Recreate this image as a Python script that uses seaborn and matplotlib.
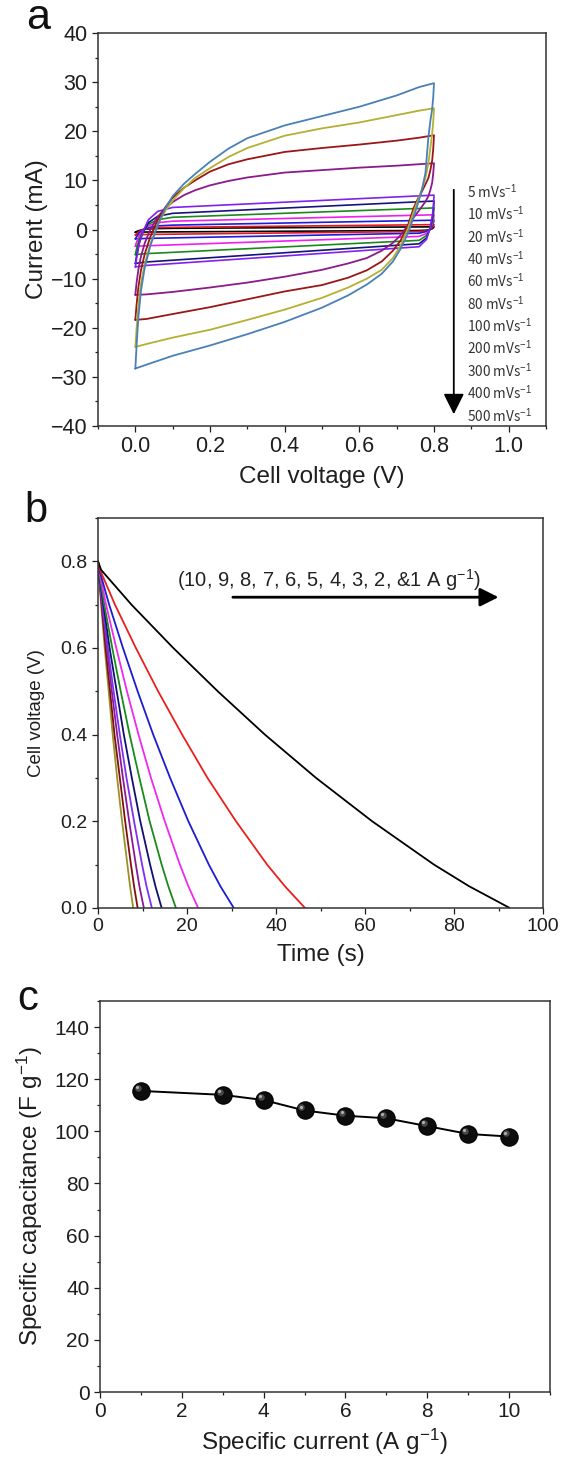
import matplotlib
matplotlib.use("Agg")
import matplotlib.pyplot as plt
from matplotlib.ticker import MultipleLocator, FormatStrFormatter
from matplotlib.transforms import ScaledTranslation
import seaborn as sns

# ---------------- panel a : cyclic voltammetry ----------------
SCAN_RATES = [5, 10, 20, 40, 60, 80, 100, 200, 300, 400, 500]
CV_COLORS = ["#000000", "#e8191c", "#1c1cdc", "#f01ef0", "#1a8a1a", "#14147a",
             "#7f22f0", "#8b1a8b", "#9b1616", "#b3b032", "#4a80b8"]

# fast scans (200-500 mV/s): read on a shared voltage grid
V_FWD = [0.0, 0.003, 0.008, 0.015, 0.025, 0.04, 0.06, 0.08, 0.1, 0.13, 0.16,
         0.2, 0.25, 0.3, 0.4, 0.5, 0.6, 0.7, 0.76, 0.8]
V_REV = [0.8, 0.798, 0.795, 0.79, 0.785, 0.777, 0.768, 0.757, 0.745, 0.73, 0.71,
         0.69, 0.66, 0.62, 0.57, 0.5, 0.4, 0.3, 0.2, 0.1, 0.03, 0.0]
cv200_fwd = [-13.3, -11.0, -8.2, -5.5, -2.8, 0.0, 2.6, 4.3, 5.6, 7.0, 8.0,
             9.0, 9.9, 10.6, 11.6, 12.1, 12.6, 13.0, 13.3, 13.5]
cv200_rev = [13.5, 11.5, 9.5, 8.0, 6.8, 5.7, 4.7, 3.6, 2.4, 0.8, -1.2,
             -2.7, -4.3, -5.8, -6.9, -8.2, -9.6, -10.8, -11.8, -12.7, -13.2, -13.3]
cv300_fwd = [-18.4, -15.5, -11.8, -8.3, -5.0, -1.5, 2.0, 4.5, 6.5, 8.5, 10.0,
             11.8, 13.3, 14.3, 15.8, 16.6, 17.3, 18.1, 18.7, 19.2]
cv300_rev = [19.2, 16.5, 14.0, 12.0, 10.5, 9.2, 7.8, 6.3, 4.3, 0.8, -2.3,
             -4.3, -6.5, -8.3, -9.8, -11.3, -12.6, -14.2, -15.8, -17.2, -18.2, -18.4]
cv400_fwd = [-23.9, -20.5, -15.5, -11.0, -7.0, -3.0, 1.0, 3.8, 5.9, 8.4, 10.5,
             12.5, 14.8, 16.6, 19.1, 20.6, 21.8, 23.3, 24.2, 24.7]
cv400_rev = [24.7, 22.0, 19.5, 16.5, 13.5, 10.5, 8.3, 6.0, 3.5, 0.2, -3.3,
             -5.8, -8.2, -10.0, -11.8, -13.9, -16.3, -18.4, -20.4, -22.0, -23.3, -23.9]
cv500_fwd = [-28.3, -24.0, -18.0, -12.5, -7.8, -3.3, 0.9, 4.3, 6.8, 9.3, 11.3,
             13.8, 16.5, 18.6, 21.2, 23.1, 25.0, 27.3, 29.0, 29.8]
cv500_rev = [29.8, 27.0, 24.5, 22.0, 18.8, 11.5, 8.2, 5.3, 2.4, -0.8, -4.0,
             -6.5, -9.0, -11.2, -13.4, -15.9, -18.8, -21.3, -23.6, -25.7, -27.5, -28.3]

# slow scans (5-100 mV/s): almost rectangular, fewer points
V_IN_FWD = [0.0, 0.003, 0.01, 0.02, 0.035, 0.06, 0.1, 0.8]
V_IN_REV = [0.8, 0.799, 0.796, 0.79, 0.78, 0.76, 0.03, 0.0]
cv5_fwd = [-0.55, -0.4, -0.2, 0.0, 0.12, 0.2, 0.25, 0.55]
cv5_rev = [0.55, 0.4, 0.2, 0.0, -0.12, -0.2, -0.5, -0.55]
cv10_fwd = [-1.1, -0.85, -0.4, 0.0, 0.25, 0.4, 0.45, 1.0]
cv10_rev = [1.0, 0.8, 0.45, 0.05, -0.25, -0.4, -1.0, -1.1]
cv20_fwd = [-1.9, -1.5, -0.7, -0.1, 0.4, 0.75, 0.9, 1.9]
cv20_rev = [1.9, 1.5, 0.8, 0.1, -0.4, -0.75, -1.8, -1.9]
cv40_fwd = [-3.4, -2.6, -1.3, -0.2, 0.8, 1.4, 1.7, 3.0]
cv40_rev = [3.0, 2.3, 1.2, 0.1, -0.8, -1.4, -3.3, -3.4]
cv60_fwd = [-5.1, -4.0, -2.0, -0.4, 1.1, 2.0, 2.5, 4.4]
cv60_rev = [4.4, 3.4, 1.8, 0.2, -1.2, -2.2, -4.9, -5.1]
cv80_fwd = [-6.9, -5.5, -2.8, -0.6, 1.4, 2.7, 3.3, 5.8]
cv80_rev = [5.8, 4.5, 2.5, 0.3, -1.7, -2.9, -6.6, -6.9]
cv100_fwd = [-7.6, -6.0, -3.0, -0.5, 2.0, 3.7, 4.5, 7.0]
cv100_rev = [7.0, 5.5, 3.0, 0.5, -2.0, -3.5, -7.3, -7.6]

# ---------------- panel b : galvanostatic discharge ----------------
CURRENT_DENSITY = [1, 2, 3, 4, 5, 6, 7, 8, 9, 10]
GCD_COLORS = ["#000000", "#e8201c", "#1c1cd0", "#ee2aee", "#1a8a1a",
              "#101070", "#8030f0", "#8a1a9a", "#801010", "#9a9228"]
# time (s) at which each curve reaches these voltages
V_GCD = [0.8, 0.78, 0.7, 0.6, 0.5, 0.4, 0.3, 0.2, 0.1, 0.05, 0.0]
t_1 = [0, 0.7, 7.5, 16.9, 26.9, 37.5, 49.0, 61.6, 75.5, 83.4, 92.5]
t_2 = [0, 0.45, 3.8, 8.5, 13.5, 18.9, 24.6, 31.0, 38.0, 42.0, 46.5]
t_3 = [0, 0.3, 2.5, 5.6, 8.9, 12.4, 16.2, 20.3, 24.9, 27.5, 30.5]
t_4 = [0, 0.25, 1.8, 4.1, 6.5, 9.1, 11.9, 15.0, 18.4, 20.3, 22.5]
t_5 = [0, 0.2, 1.4, 3.2, 5.1, 7.1, 9.3, 11.6, 14.3, 15.8, 17.5]
t_6 = [0, 0.15, 1.2, 2.6, 4.2, 5.8, 7.6, 9.5, 11.7, 12.9, 14.3]
t_7 = [0, 0.13, 1.0, 2.2, 3.5, 4.9, 6.4, 8.1, 9.9, 10.9, 12.1]
t_8 = [0, 0.11, 0.9, 2.0, 3.1, 4.3, 5.6, 7.0, 8.5, 9.3, 10.3]
t_9 = [0, 0.1, 0.8, 1.7, 2.7, 3.7, 4.9, 6.1, 7.4, 8.1, 8.9]
t_10 = [0, 0.09, 0.7, 1.5, 2.4, 3.3, 4.3, 5.4, 6.6, 7.2, 7.9]

# ---------------- panel c : rate capability ----------------
SPEC_CURRENT = [1, 3, 4, 5, 6, 7, 8, 9, 10]
SPEC_CAP = [115.5, 114, 112, 108, 106, 105, 102, 99, 98]

TEXT = "#1e1e1e"

sns.set_theme(style="ticks")
plt.rcParams["font.family"] = ["Liberation Sans", "DejaVu Sans"]
plt.rcParams["mathtext.fontset"] = "custom"
plt.rcParams["mathtext.rm"] = "Liberation Sans"
plt.rcParams["mathtext.it"] = "Liberation Sans:italic"
plt.rcParams["text.color"] = TEXT
plt.rcParams["axes.labelcolor"] = TEXT
plt.rcParams["xtick.color"] = TEXT
plt.rcParams["ytick.color"] = TEXT


def style_axes(ax, tick_size):
    for sp in ax.spines.values():
        sp.set_visible(True)
        sp.set_linewidth(1.1)
        sp.set_color("#333333")
    ax.tick_params(which="major", direction="out", length=4.5, width=0.9,
                   labelsize=tick_size, top=False, right=False, pad=3)
    ax.tick_params(which="minor", direction="out", length=2.5, width=0.9,
                   top=False, right=False)
    ax.grid(False)


fig = plt.figure(figsize=(5.63, 14.63), dpi=100)
ax_a = fig.add_axes([0.1741, 0.7088, 0.7957, 0.2686])
ax_b = fig.add_axes([0.1741, 0.3794, 0.7904, 0.2666])
ax_c = fig.add_axes([0.1776, 0.0485, 0.7993, 0.2673])

# ---- panel a ----
small_loops = [(cv5_fwd, cv5_rev), (cv10_fwd, cv10_rev), (cv20_fwd, cv20_rev),
               (cv40_fwd, cv40_rev), (cv60_fwd, cv60_rev), (cv80_fwd, cv80_rev),
               (cv100_fwd, cv100_rev)]
big_loops = [(cv200_fwd, cv200_rev), (cv300_fwd, cv300_rev),
             (cv400_fwd, cv400_rev), (cv500_fwd, cv500_rev)]

for k, (fwd, rev) in enumerate(small_loops):
    sns.lineplot(x=V_IN_FWD + V_IN_REV, y=fwd + rev, ax=ax_a, sort=False,
                 estimator=None, color=CV_COLORS[k], lw=1.2, legend=False)
for k, (fwd, rev) in enumerate(big_loops):
    sns.lineplot(x=V_FWD + V_REV, y=fwd + rev, ax=ax_a, sort=False,
                 estimator=None, color=CV_COLORS[k + 7], lw=1.3, legend=False)

ax_a.set_xlim(-0.1, 1.1)
ax_a.set_ylim(-40, 40)
ax_a.xaxis.set_major_locator(MultipleLocator(0.2))
ax_a.xaxis.set_minor_locator(MultipleLocator(0.1))
ax_a.yaxis.set_major_locator(MultipleLocator(10))
ax_a.yaxis.set_minor_locator(MultipleLocator(5))
ax_a.xaxis.set_major_formatter(FormatStrFormatter("%.1f"))
style_axes(ax_a, 15.5)
ax_a.set_xlabel("Cell voltage (V)", fontsize=17.5, labelpad=6)
ax_a.set_ylabel("Current (mA)", fontsize=17.5, labelpad=2)

# scan-rate list with downward arrow
ax_a.annotate("", xy=(0.853, -37.6), xytext=(0.853, 8.1),
              arrowprops=dict(arrowstyle="-|>,head_width=0.35,head_length=0.7",
                              color="black", lw=1.3, shrinkA=0, shrinkB=0,
                              mutation_scale=18))
for k, r in enumerate(SCAN_RATES):
    ax_a.text(0.888, 7.7 - 4.55 * k, f"{r} mVs$^{{-1}}$", fontsize=9.8,
              family=["Noto Sans CJK KR", "DejaVu Sans"], va="center", ha="left",
              color="#333333")

# ---- panel b ----
times = [t_1, t_2, t_3, t_4, t_5, t_6, t_7, t_8, t_9, t_10]
for k in range(len(CURRENT_DENSITY) - 1, -1, -1):
    sns.lineplot(x=times[k], y=V_GCD, ax=ax_b, sort=False, estimator=None,
                 color=GCD_COLORS[k], lw=1.3, legend=False)

ax_b.set_xlim(0, 100)
ax_b.set_ylim(0, 0.9)
ax_b.xaxis.set_major_locator(MultipleLocator(20))
ax_b.xaxis.set_minor_locator(MultipleLocator(10))
ax_b.yaxis.set_minor_locator(MultipleLocator(0.1))
ax_b.set_yticks([0, 0.2, 0.4, 0.6, 0.8])
ax_b.yaxis.set_major_formatter(FormatStrFormatter("%.1f"))
style_axes(ax_b, 14)
ax_b.set_xlabel("Time (s)", fontsize=17.5, labelpad=6)
ax_b.set_ylabel("Cell voltage (V)", fontsize=13.5, labelpad=11)

label_b = "(" + ", ".join(str(c) for c in CURRENT_DENSITY[::-1][:-1]) + \
          f", &{CURRENT_DENSITY[0]} A g$^{{-1}}$)"
ax_b.text(52, 0.757, label_b, fontsize=14.5, ha="center", va="center", color="#222222")
ax_b.annotate("", xy=(90, 0.717), xytext=(30.3, 0.717),
              arrowprops=dict(arrowstyle="-|>,head_width=0.35,head_length=0.7",
                              color="black", lw=2.0, shrinkA=0, shrinkB=0,
                              mutation_scale=16))

# ---- panel c ----
sns.lineplot(x=SPEC_CURRENT, y=SPEC_CAP, ax=ax_c, color="black", lw=1.4,
             marker="o", markersize=12.5, markerfacecolor="#0d0d0d",
             markeredgecolor="#000000", markeredgewidth=0.8, legend=False)
# little highlight on the balls
shift = ScaledTranslation(-2.2 / 72, 2.2 / 72, fig.dpi_scale_trans)
ax_c.scatter(SPEC_CURRENT, SPEC_CAP, s=22, color="#4a4a4a", zorder=4,
             linewidths=0, transform=ax_c.transData + shift)
shift2 = ScaledTranslation(-2.8 / 72, 2.8 / 72, fig.dpi_scale_trans)
ax_c.scatter(SPEC_CURRENT, SPEC_CAP, s=5, color="#b0b0b0", zorder=5,
             linewidths=0, transform=ax_c.transData + shift2)

ax_c.set_xlim(0, 11)
ax_c.set_ylim(0, 150)
ax_c.xaxis.set_minor_locator(MultipleLocator(1))
ax_c.set_xticks([0, 2, 4, 6, 8, 10])
ax_c.yaxis.set_minor_locator(MultipleLocator(10))
ax_c.set_yticks([0, 20, 40, 60, 80, 100, 120, 140])
style_axes(ax_c, 15)
ax_c.set_xlabel("Specific current (A g$^{-1}$)", fontsize=17.5, labelpad=4)
ax_c.set_ylabel("Specific capacitance (F g$^{-1}$)", fontsize=17.5, labelpad=7)

# panel letters
fig.text(0.046, 0.980, "a", fontsize=31, color="#111111", ha="left", va="baseline")
fig.text(0.043, 0.643, "b", fontsize=30, color="#111111", ha="left", va="baseline")
fig.text(0.030, 0.3096, "c", fontsize=30, color="#111111", ha="left", va="baseline")

fig.savefig("out.png", dpi=100)
